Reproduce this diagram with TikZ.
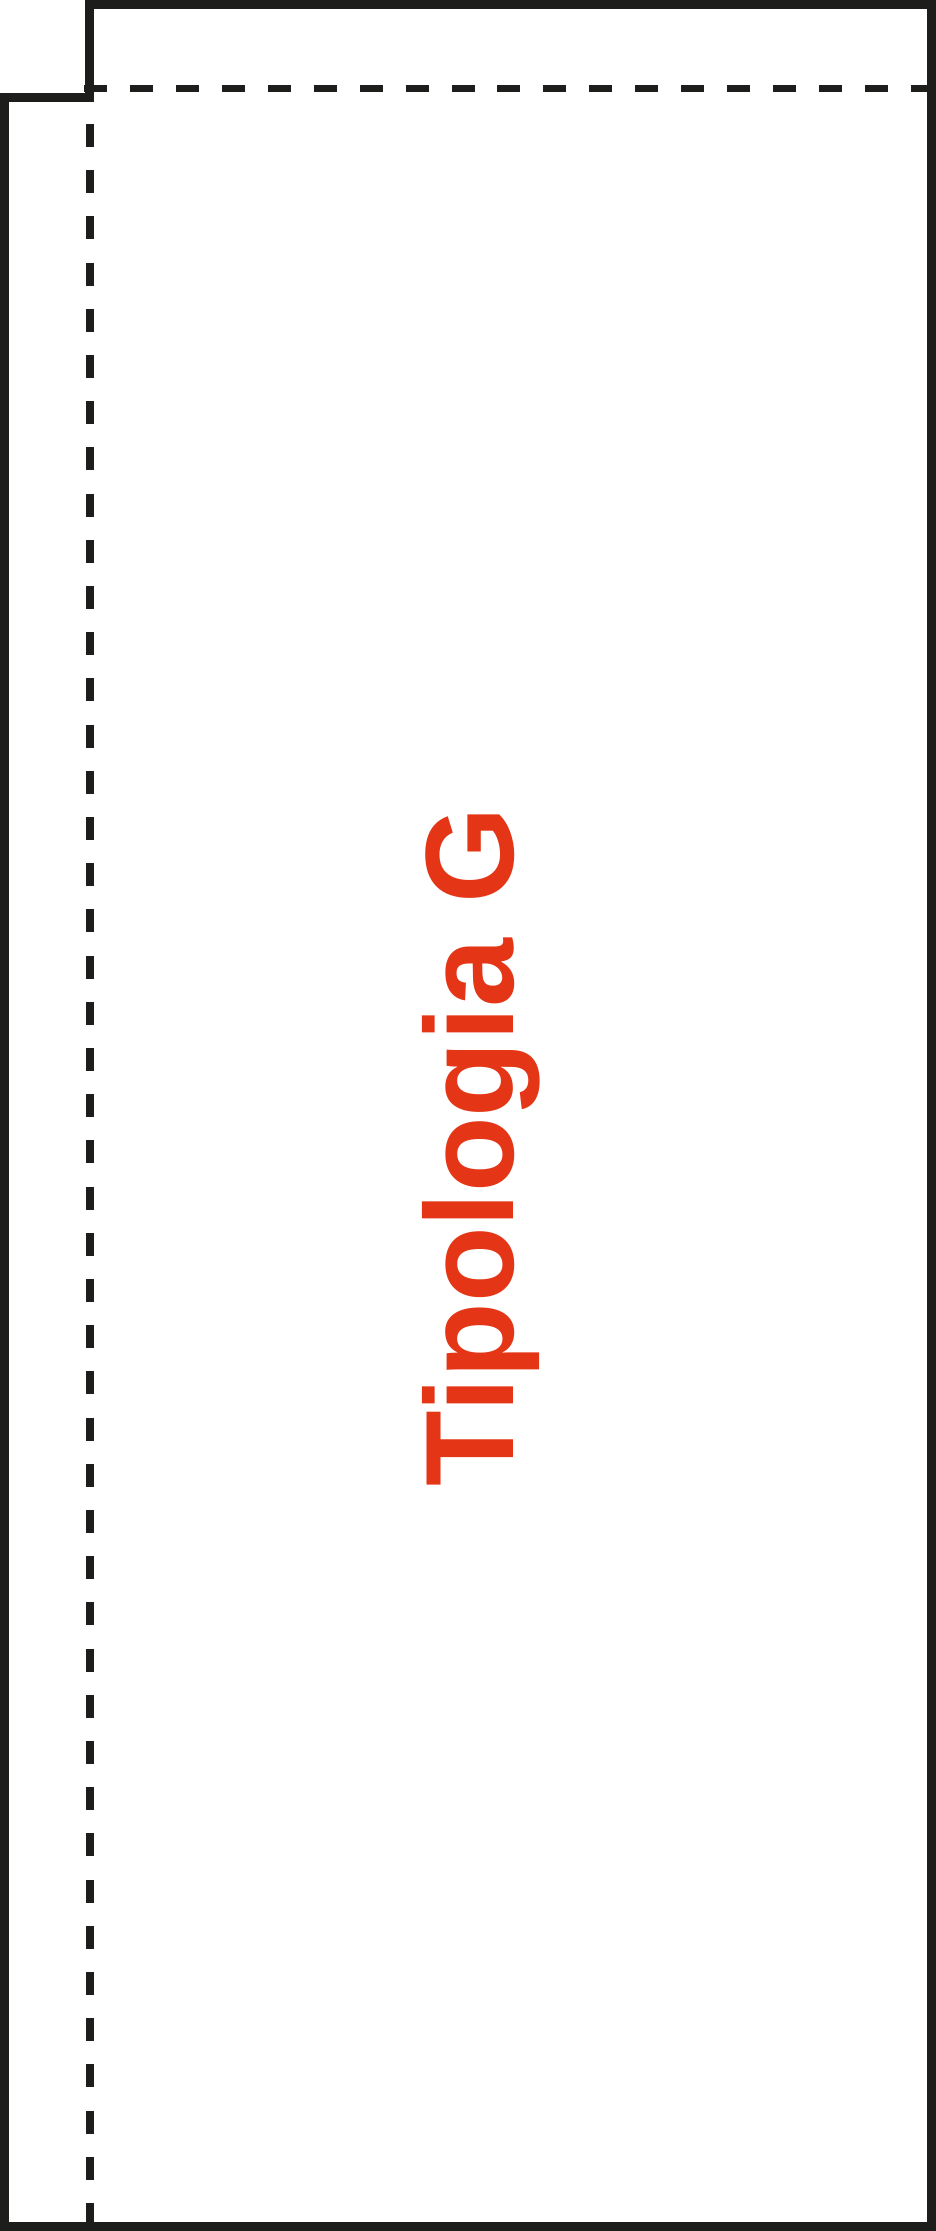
\documentclass[tikz,border=0pt]{standalone}
\usepackage{fontspec}
\newfontfamily\labelfont{Liberation Sans}
\definecolor{linedark}{HTML}{1D1D1B}
\definecolor{labelred}{RGB}{228,54,22}
\tikzset{
  outline/.style={draw=linedark, line width=9pt, line join=miter},
  foldline/.style={draw=linedark, line width=7.5pt},
  hfold/.style={foldline, dash pattern=on 23pt off 22.94pt},
  vfold/.style={foldline, dash pattern=on 23pt off 23.2pt},
  title/.style={text=labelred, inner sep=0pt, rotate=90, anchor=base,
    font=\labelfont\bfseries\fontsize{125.7}{130}\selectfont}
}
\begin{document}
\begin{tikzpicture}[x=1pt,y=-1pt]
\useasboundingbox[fill=white] (0,0) rectangle (936,2231);
\coordinate (hs) at (84,88.7);
\coordinate (he) at (927,88.7);
\coordinate (vs) at (90,77.8);
\coordinate (ve) at (90,2222);
\draw[hfold] (hs) -- (he);
\draw[vfold] (vs) -- (ve);
\coordinate (a) at (89.5,4.5);
\coordinate (b) at (931.5,4.5);
\coordinate (c) at (931.5,2226.5);
\coordinate (d) at (4.6,2226.5);
\coordinate (e) at (4.6,97.2);
\coordinate (f) at (89.5,97.2);
\draw[outline] (a) -- (b) -- (c) -- (d) -- (e) -- (f) -- cycle;
\node[title] (label) at (513,1147) {\scalebox{0.985}[1]{Tipologia G}};
\end{tikzpicture}
\end{document}
